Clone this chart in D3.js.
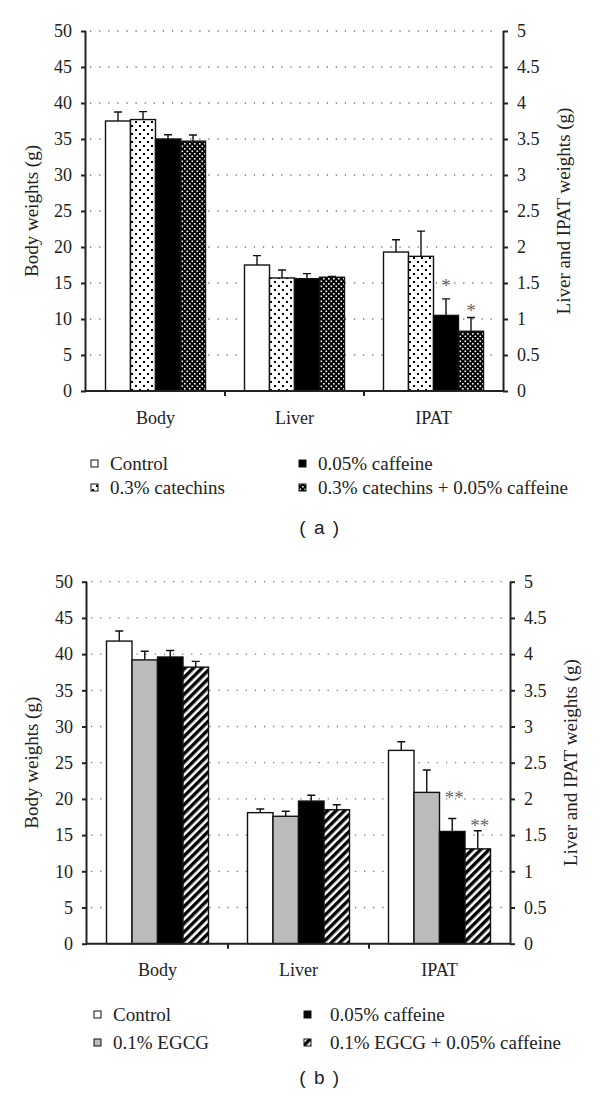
<!DOCTYPE html>
<html>
<head>
<meta charset="utf-8">
<script src="https://cdnjs.cloudflare.com/ajax/libs/d3/7.8.5/d3.min.js"></script>
<style>
  body { margin: 0; background: #fff; }
  text { font-family: "Liberation Serif", "Times New Roman", serif; fill: #222; }
</style>
</head>
<body>
<div id="chart"></div>
<script>
// Data
var categories = ["Body", "Liver", "IPAT"];
var leftTicks = [0, 5, 10, 15, 20, 25, 30, 35, 40, 45, 50];
var rightTicks = [0, 0.5, 1, 1.5, 2, 2.5, 3, 3.5, 4, 4.5, 5];

// panel (a)
var seriesA = ["Control", "0.3% catechins", "0.05% caffeine", "0.3% catechins + 0.05% caffeine"];
var aBody = [37.5, 37.7, 35.0, 34.7];
var aBodyErr = [1.25, 1.1, 0.6, 0.85];
var aLiver = [1.75, 1.57, 1.56, 1.58];
var aLiverErr = [0.13, 0.11, 0.07, 0.01];
var aIpat = [1.93, 1.87, 1.05, 0.83];
var aIpatErr = [0.17, 0.35, 0.23, 0.19];
var aStars = ["", "", "*", "*"];
var aStarY = [0, 0, 1.50, 1.15];

// panel (b)
var seriesB = ["Control", "0.1% EGCG", "0.05% caffeine", "0.1% EGCG + 0.05% caffeine"];
var bBody = [41.8, 39.2, 39.6, 38.2];
var bBodyErr = [1.4, 1.2, 0.9, 0.8];
var bLiver = [1.81, 1.76, 1.97, 1.85];
var bLiverErr = [0.05, 0.07, 0.08, 0.07];
var bIpat = [2.67, 2.09, 1.55, 1.31];
var bIpatErr = [0.12, 0.31, 0.18, 0.25];
var bStars = ["", "", "**", "**"];
var bStarY = [0, 0, 2.05, 1.67];

var svg = d3.select("#chart")
  .append("svg")
  .attr("width", 600)
  .attr("height", 1105);

// Fill patterns
var defs = svg.append("defs");

var dots = defs.append("pattern")
  .attr("id", "dots")
  .attr("patternUnits", "userSpaceOnUse")
  .attr("width", 8).attr("height", 8);
dots.append("rect").attr("width", 8).attr("height", 8).attr("fill", "#fff");
dots.append("rect").attr("x", 1).attr("y", 1).attr("width", 2).attr("height", 2).attr("fill", "#000");
dots.append("rect").attr("x", 5).attr("y", 5).attr("width", 2).attr("height", 2).attr("fill", "#000");

var cross = defs.append("pattern")
  .attr("id", "cross")
  .attr("patternUnits", "userSpaceOnUse")
  .attr("width", 5).attr("height", 5);
cross.append("rect").attr("width", 5).attr("height", 5).attr("fill", "#000");
cross.append("rect").attr("x", 0.5).attr("y", 0.5).attr("width", 1.6).attr("height", 1.6).attr("fill", "#fff");
cross.append("rect").attr("x", 3).attr("y", 3).attr("width", 1.6).attr("height", 1.6).attr("fill", "#fff");

var stripes = defs.append("pattern")
  .attr("id", "stripes")
  .attr("patternUnits", "userSpaceOnUse")
  .attr("width", 6).attr("height", 6)
  .attr("patternTransform", "rotate(45)");
stripes.append("rect").attr("width", 6).attr("height", 6).attr("fill", "#fff");
stripes.append("rect").attr("width", 3.4).attr("height", 6).attr("fill", "#000");

var fillsA = ["#fff", "url(#dots)", "#000", "url(#cross)"];
var fillsB = ["#fff", "#bbb", "#000", "url(#stripes)"];

function drawPanel(cfg) {
  var g = svg.append("g");

  var yLeft = d3.scaleLinear().domain([0, 50]).range([cfg.y0, cfg.y50]);
  var yRight = d3.scaleLinear().domain([0, 5]).range([cfg.y0, cfg.y50]);
  var x0 = d3.scaleBand().domain(categories).range([cfg.xl, cfg.xr]);
  var x1 = d3.scaleBand().domain(d3.range(4))
    .range([x0.bandwidth() / 2 - cfg.barW * 2, x0.bandwidth() / 2 + cfg.barW * 2]);

  // dotted gridlines
  g.selectAll(".grid")
    .data(leftTicks.filter(d => d > 0))
    .enter()
    .append("line")
    .attr("x1", cfg.xl + 4)
    .attr("x2", cfg.xr - 4)
    .attr("y1", d => yLeft(d))
    .attr("y2", d => yLeft(d))
    .attr("stroke", "#777")
    .attr("stroke-width", 1.3)
    .attr("stroke-dasharray", "1.3,7.8");

  // bars, one row of values per category
  var rows = [
    { cat: "Body", vals: cfg.body, errs: cfg.bodyErr, y: yLeft },
    { cat: "Liver", vals: cfg.liver, errs: cfg.liverErr, y: yRight },
    { cat: "IPAT", vals: cfg.ipat, errs: cfg.ipatErr, y: yRight }
  ];

  rows.forEach(function(row) {
    var cg = g.append("g").attr("transform", `translate(${x0(row.cat)},0)`);

    // error bars (upper only)
    cg.selectAll(".err")
      .data(row.vals)
      .enter()
      .append("path")
      .attr("d", function(d, i) {
        var cx = x1(i) + x1.bandwidth() / 2;
        var top = row.y(d + row.errs[i]);
        return `M${cx},${row.y(d)}V${top}M${cx - 4},${top}H${cx + 4}`;
      })
      .attr("fill", "none")
      .attr("stroke", "#111")
      .attr("stroke-width", 1.4);

    cg.selectAll("rect")
      .data(row.vals)
      .enter()
      .append("rect")
      .attr("x", (d, i) => x1(i))
      .attr("y", d => row.y(d))
      .attr("width", x1.bandwidth())
      .attr("height", d => cfg.y0 - row.y(d))
      .attr("fill", (d, i) => cfg.fills[i])
      .attr("stroke", "#111")
      .attr("stroke-width", 1.4);

    if (row.cat === "IPAT") {
      cg.selectAll(".star")
        .data(cfg.stars)
        .enter()
        .append("text")
        .attr("x", (d, i) => x1(i) + x1.bandwidth() / 2 + (d.length > 1 ? 2 : 0))
        .attr("y", (d, i) => row.y(cfg.starY[i]) + 9)
        .attr("text-anchor", "middle")
        .style("font-size", "19px")
        .style("fill", "#666")
        .text(d => d);
    }
  });

  // left axis
  var leftAxis = d3.axisLeft(yLeft).tickValues(leftTicks).tickSize(5).tickPadding(9);
  var la = g.append("g").attr("transform", `translate(${cfg.xl},0)`).call(leftAxis);
  la.select(".domain").attr("d", `M-0.5,${cfg.y50}V${cfg.y0}`);

  // right axis
  var rightAxis = d3.axisRight(yRight).tickValues(rightTicks).tickSize(5).tickPadding(9)
    .tickFormat(d3.format("~g"));
  var ra = g.append("g").attr("transform", `translate(${cfg.xr},0)`).call(rightAxis);
  ra.select(".domain").attr("d", `M0.5,${cfg.y50}V${cfg.y0}`);

  [la, ra].forEach(function(a) {
    a.select(".domain").attr("stroke", "#222").attr("stroke-width", 2);
    a.selectAll(".tick line").attr("stroke", "#222").attr("stroke-width", 2);
    a.selectAll(".tick text")
      .style("font-family", "'Liberation Serif', serif")
      .style("font-size", "18px")
      .attr("fill", "#222");
  });

  // category axis
  var bottomAxis = d3.axisBottom(x0).tickSize(0).tickPadding(20);
  var ba = g.append("g").attr("transform", `translate(0,${cfg.y0})`).call(bottomAxis);
  ba.select(".domain").attr("stroke", "#222").attr("stroke-width", 2)
    .attr("d", `M${cfg.xl},0H${cfg.xr}`);
  ba.selectAll(".tick text")
    .style("font-family", "'Liberation Serif', serif")
    .style("font-size", "18px")
    .attr("fill", "#222");
  ba.selectAll(".sep")
    .data(x0.domain().slice(1))
    .enter()
    .append("line")
    .attr("x1", d => x0(d))
    .attr("x2", d => x0(d))
    .attr("y1", 0)
    .attr("y2", 5)
    .attr("stroke", "#222")
    .attr("stroke-width", 2);

  // axis titles
  g.append("text")
    .attr("transform", `translate(38, ${(cfg.y0 + cfg.y50) / 2}) rotate(-90)`)
    .attr("text-anchor", "middle")
    .style("font-size", "19px")
    .text("Body weights (g)");

  g.append("text")
    .attr("transform", `translate(${cfg.xr + 67}, ${(cfg.y0 + cfg.y50) / 2}) rotate(-90)`)
    .attr("text-anchor", "middle")
    .style("font-size", "19px")
    .text("Liver and IPAT weights (g)");

  // legend
  var leg = g.selectAll(".legend")
    .data(cfg.series)
    .enter()
    .append("g")
    .attr("transform", function(d, i) {
      var col = Math.floor(i / 2), r = i % 2;
      return `translate(${col ? cfg.legX2 : cfg.legX1}, ${cfg.legY + r * cfg.legDy})`;
    });

  leg.append("rect")
    .attr("x", 0)
    .attr("y", -4)
    .attr("width", 7)
    .attr("height", 7)
    .attr("fill", (d, i) => cfg.fills[i] === "url(#dots)" ? "url(#dots)" : cfg.fills[i])
    .attr("stroke", "#111")
    .attr("stroke-width", 1);

  leg.append("text")
    .attr("x", (d, i) => i < 2 ? cfg.legGap1 : cfg.legGap2)
    .attr("y", 6)
    .style("font-size", "19px")
    .text(d => d);

  // panel label
  g.append("text")
    .attr("x", 320)
    .attr("y", cfg.labelY)
    .attr("text-anchor", "middle")
    .style("font-family", "'Liberation Sans', Arial, sans-serif")
    .style("font-size", "19px")
    .style("letter-spacing", "1.5px")
    .text(cfg.label);
}

drawPanel({
  y0: 391, y50: 31, xl: 86, xr: 503, barW: 25,
  body: aBody, bodyErr: aBodyErr, liver: aLiver, liverErr: aLiverErr,
  ipat: aIpat, ipatErr: aIpatErr, stars: aStars, starY: aStarY,
  fills: fillsA, series: seriesA,
  legX1: 91, legX2: 299, legY: 464, legDy: 24, legGap1: 19, legGap2: 19,
  labelY: 534, label: "( a )"
});

drawPanel({
  y0: 943.7, y50: 581.7, xl: 87, xr: 510, barW: 25.5,
  body: bBody, bodyErr: bBodyErr, liver: bLiver, liverErr: bLiverErr,
  ipat: bIpat, ipatErr: bIpatErr, stars: bStars, starY: bStarY,
  fills: fillsB, series: seriesB,
  legX1: 94, legX2: 304, legY: 1015, legDy: 28, legGap1: 19, legGap2: 26,
  labelY: 1084, label: "( b )"
});
</script>
</body>
</html>
